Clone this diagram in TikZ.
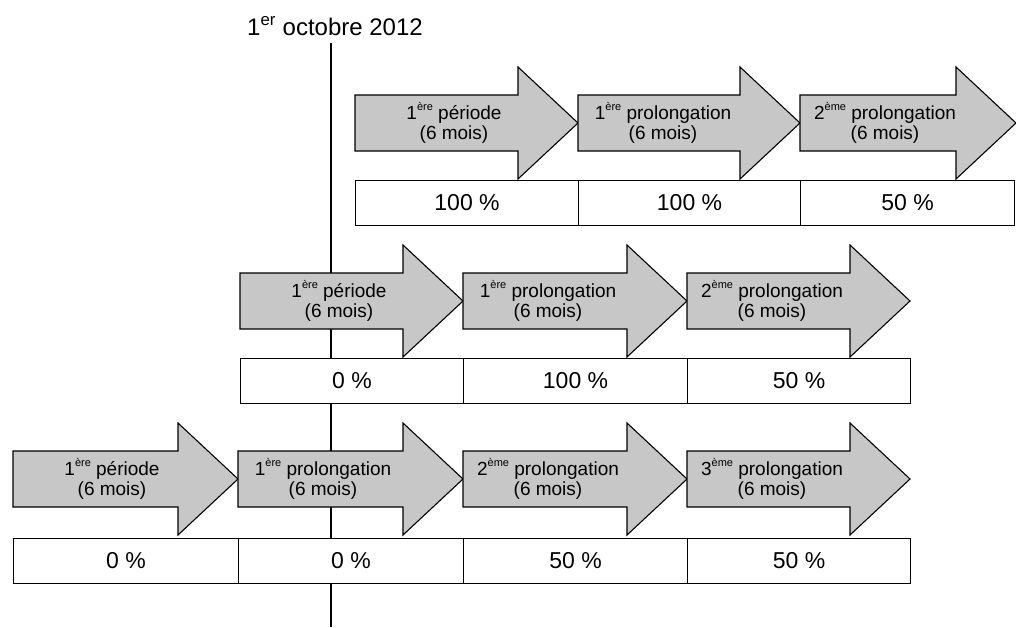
\documentclass[tikz,border=0pt]{standalone}
\usepackage{fontspec}
\setmainfont{Liberation Sans}
\newcommand{\flecha}[6]{%
  \draw[arrowshape] (#2,#3) -- (#4-60,#3) -- (#4-60,#3-28) -- (#4,#3+28) -- (#4-60,#3+84) -- (#4-60,#3+56) -- (#2,#3+56) -- cycle;
  \node[arrowtext] (#1) at (#2+#5,#3+28) {#6};
}
\newcommand{\pctcell}[5]{%
  \node[pctbox, minimum width={(#3-#2)*1pt}, anchor=north west] (#1) at (#2,#4) {#5};
}
\newcommand{\supsmall}[1]{\raisebox{0.45em}{\fontsize{11}{11}\selectfont #1}}
\begin{document}
\begin{tikzpicture}[x=1pt,y=-1pt,
  arrowshape/.style={draw=black, line width=1.1pt, fill=black!22, line join=miter},
  arrowtext/.style={align=center, inner sep=0pt, font=\fontsize{19}{20}\selectfont},
  pctbox/.style={draw=black, line width=1.1pt, fill=white, minimum height=45pt, inner sep=0pt, font=\fontsize{23}{24}\selectfont},
  titletext/.style={font=\fontsize{24}{26}\selectfont, inner sep=0pt}]
\useasboundingbox (0,0) rectangle (1016,627);
% title and date line
\node[titletext, anchor=base] (title) at (335,35) {1\textsuperscript{er} octobre 2012};
\coordinate (linetop) at (331,43);
\coordinate (linebot) at (331,627);
\draw[line width=1.1pt] (linetop) -- (linebot);
% row 1
\flecha{a11}{355}{95}{578}{99}{1\supsmall{ère} période\\(6 mois)}
\flecha{a12}{578}{95}{800}{85}{1\supsmall{ère} prolongation\\(6 mois)}
\flecha{a13}{800}{95}{1016}{85}{2\supsmall{ème} prolongation\\(6 mois)}
\pctcell{b11}{355}{578}{180}{100 \%}
\pctcell{b12}{578}{800}{180}{100 \%}
\pctcell{b13}{800}{1014}{180}{50 \%}
% row 2
\flecha{a21}{240}{273}{463}{99}{1\supsmall{ère} période\\(6 mois)}
\flecha{a22}{463}{273}{687}{85}{1\supsmall{ère} prolongation\\(6 mois)}
\flecha{a23}{687}{273}{910}{85}{2\supsmall{ème} prolongation\\(6 mois)}
\pctcell{b21}{240}{463}{358}{0 \%}
\pctcell{b22}{463}{687}{358}{100 \%}
\pctcell{b23}{687}{910}{358}{50 \%}
% row 3
\flecha{a31}{13}{451}{238}{99}{1\supsmall{ère} période\\(6 mois)}
\flecha{a32}{238}{451}{463}{85}{1\supsmall{ère} prolongation\\(6 mois)}
\flecha{a33}{463}{451}{687}{85}{2\supsmall{ème} prolongation\\(6 mois)}
\flecha{a34}{687}{451}{910}{85}{3\supsmall{ème} prolongation\\(6 mois)}
\pctcell{b31}{13}{238}{538}{0 \%}
\pctcell{b32}{238}{463}{538}{0 \%}
\pctcell{b33}{463}{687}{538}{50 \%}
\pctcell{b34}{687}{910}{538}{50 \%}
\end{tikzpicture}
\end{document}
